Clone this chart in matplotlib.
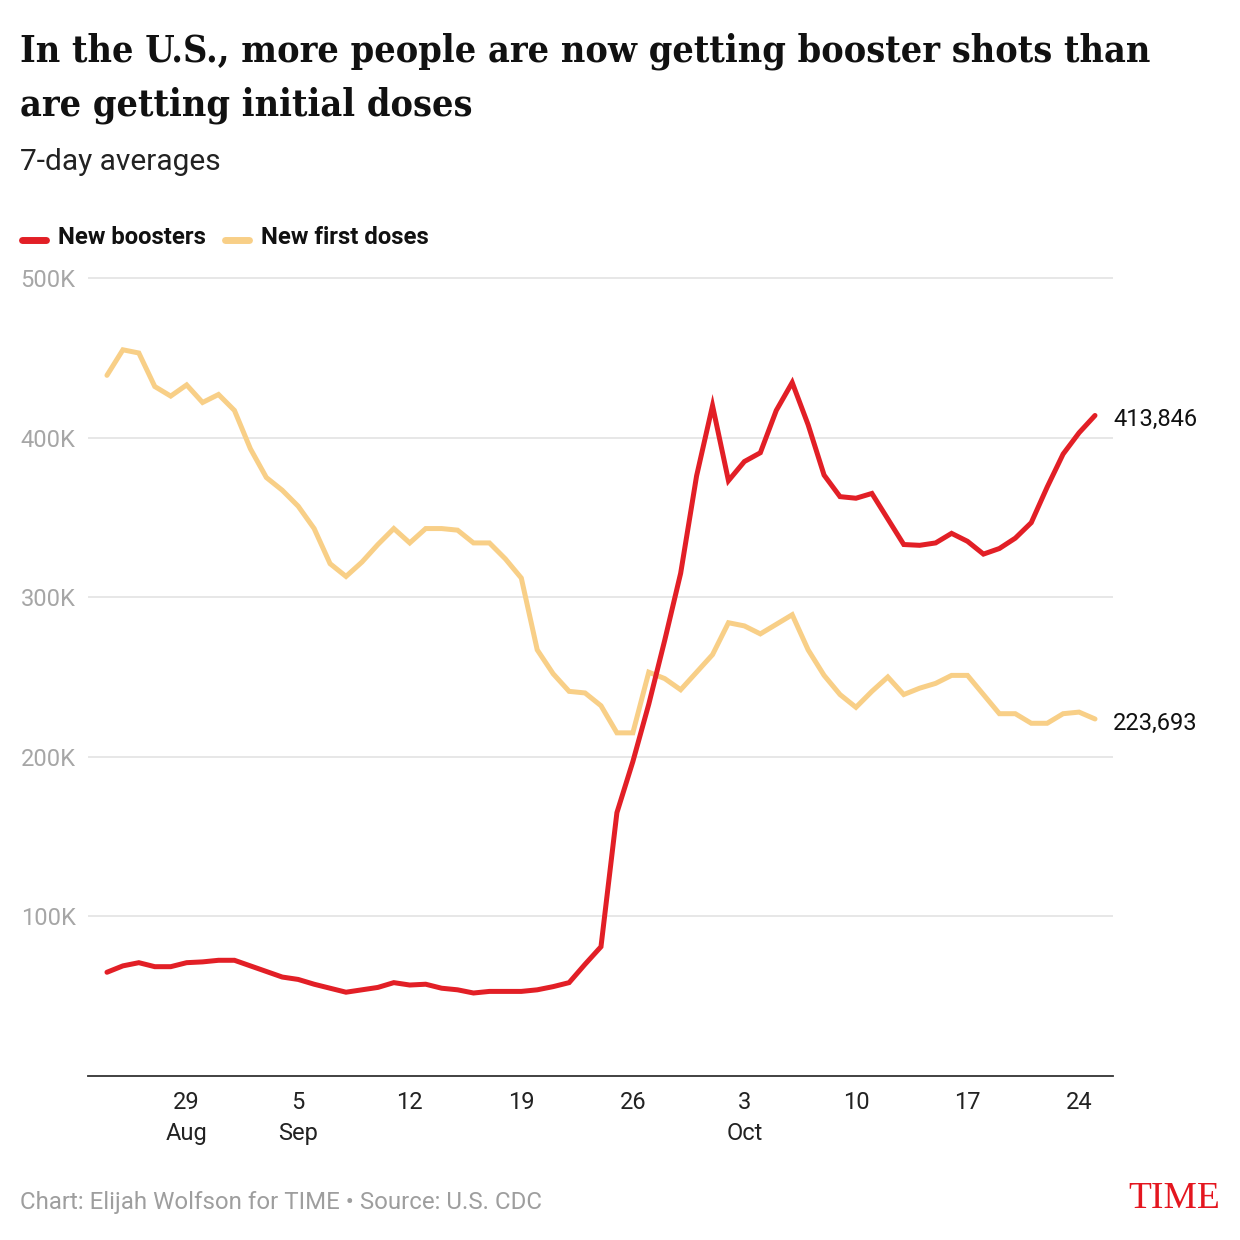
import pandas as pd
import numpy as np
import matplotlib.pyplot as plt
import matplotlib.dates as mdates

# PARAMETERS
W, H = 1240, 1240
RED = '#e21f26'
YELLOW = '#f8cf87'
BODY = 'Roboto'

# DATA (7-day averages)
dates = pd.date_range('2021-08-24', '2021-10-25', freq='D')

boosters = [65000, 69000, 71000, 68500, 68500, 71000, 71500, 72500, 72500, 69000,
            65500, 62000, 60500, 57500, 55000, 52500, 54000, 55500, 58500, 57000,
            57500, 55000, 54000, 52000, 53000, 53000, 53000, 54000, 56000, 58500,
            70000, 81000, 165000, 197000, 233000, 273000, 315000, 376000, 420000, 373000,
            385000, 390500, 417000, 434500, 408000, 376500, 363000, 362000, 365000, 349000,
            333000, 332500, 334000, 340000, 335000, 327000, 330500, 337000, 346700, 369000,
            389700, 403000, 413846]

first_doses = [439000, 455000, 453000, 432000, 426000, 433000, 422000, 427000, 417000, 393000,
               375000, 367000, 357000, 343000, 321000, 313000, 322000, 333000, 343000, 334000,
               343000, 343000, 342000, 334000, 334000, 324000, 312000, 267000, 252000, 241000,
               240000, 232000, 215000, 215000, 253000, 249000, 242000, 253000, 264000, 284000,
               282000, 277000, 283000, 289000, 267000, 251000, 239000, 231000, 241000, 250000,
               239000, 243000, 246000, 251000, 251000, 239000, 227000, 227000, 221000, 221000,
               227000, 228000, 223693]

tick_dates = ['2021-08-29', '2021-09-05', '2021-09-12', '2021-09-19', '2021-09-26',
              '2021-10-03', '2021-10-10', '2021-10-17', '2021-10-24']
tick_labels = ['29\nAug', '5\nSep', '12', '19', '26', '3\nOct', '10', '17', '24']
y_ticks = [100000, 200000, 300000, 400000, 500000]
y_labels = ['100K', '200K', '300K', '400K', '500K']

title_lines = ['In the U.S., more people are now getting booster shots than',
               'are getting initial doses']


def fy(px):
    # pixel row -> figure fraction
    return 1 - px / H


def fx(px):
    return px / W


# ========== [ FIGURE ] ============================
fig = plt.figure(figsize=(W / 100, H / 100), dpi=100)
ax = fig.add_axes([fx(88), fy(1076), fx(1113) - fx(88), fy(270) - fy(1076)])

l1, = ax.plot(dates, boosters, color=RED, lw=3.6, solid_capstyle='round',
              solid_joinstyle='miter', label='New boosters', zorder=3)
l2, = ax.plot(dates, first_doses, color=YELLOW, lw=3.6, solid_capstyle='round',
              solid_joinstyle='miter', label='New first doses', zorder=2)

# axis limits (one day ~ 15.93 px)
ax.set_xlim(mdates.date2num(dates[0]) - 1.19, mdates.date2num(dates[-1]) + 1.13)
ax.set_ylim(0, 505000)

ax.set_yticks(y_ticks)
ax.set_yticklabels(y_labels, fontsize=17, color='#a6a6a6', family=BODY)
ax.set_xticks(pd.to_datetime(tick_dates))
ax.set_xticklabels(tick_labels, fontsize=17, color='#222222', family=BODY, linespacing=1.45)
ax.tick_params(axis='both', length=0)
ax.tick_params(axis='x', pad=11)
ax.tick_params(axis='y', pad=9)

ax.grid(axis='y', color='#e3e3e3', lw=1.2)
ax.set_axisbelow(True)
for s in ['top', 'right', 'left']:
    ax.spines[s].set_visible(False)
ax.spines['bottom'].set_color('#333333')
ax.spines['bottom'].set_linewidth(1.3)
ax.spines['bottom'].set_zorder(4)

# end-of-line value labels
for series in [boosters, first_doses]:
    ax.annotate(f'{series[-1]:,}', (dates[-1], series[-1]), xytext=(13, -3),
                textcoords='offset points', va='center', ha='left', fontsize=17,
                family=BODY, color='#111111', annotation_clip=False)

# ========== [ HEADER ] ============================
fig.text(fx(20), fy(62), title_lines[0], fontsize=27, fontweight='bold',
         family='DejaVu Serif', fontstretch='condensed', color='#111111', va='baseline', ha='left')
fig.text(fx(20), fy(115), title_lines[1], fontsize=27, fontweight='bold',
         family='DejaVu Serif', fontstretch='condensed', color='#111111', va='baseline', ha='left')
fig.text(fx(20), fy(162), '7-day averages', fontsize=21.5, family=BODY, color='#222222',
         va='center', ha='left')

leg = fig.legend(handles=[l1, l2], loc='center left', bbox_to_anchor=(fx(22), fy(238)),
                 ncol=2, frameon=False, handlelength=1.75, handletextpad=0.85,
                 columnspacing=1.35, borderaxespad=0, borderpad=0)
for t in leg.get_texts():
    t.set_fontsize(17.2)
    t.set_fontweight('bold')
    t.set_family(BODY)
    t.set_color('#111111')
for h in leg.legend_handles:
    h.set_linewidth(5)
    h.set_solid_capstyle('round')

# ========== [ FOOTER ] ============================
fig.text(fx(20), fy(1203), 'Chart: Elijah Wolfson for TIME \u2022 Source: U.S. CDC', fontsize=17.3,
         family=BODY, color='#9e9e9e', va='center', ha='left')
fig.text(fx(1220), fy(1199), 'TIME', fontsize=27, family='Liberation Serif', color='#e4161f',
         va='center', ha='right')

plt.savefig('out.png', dpi=100)
print('Done...')
